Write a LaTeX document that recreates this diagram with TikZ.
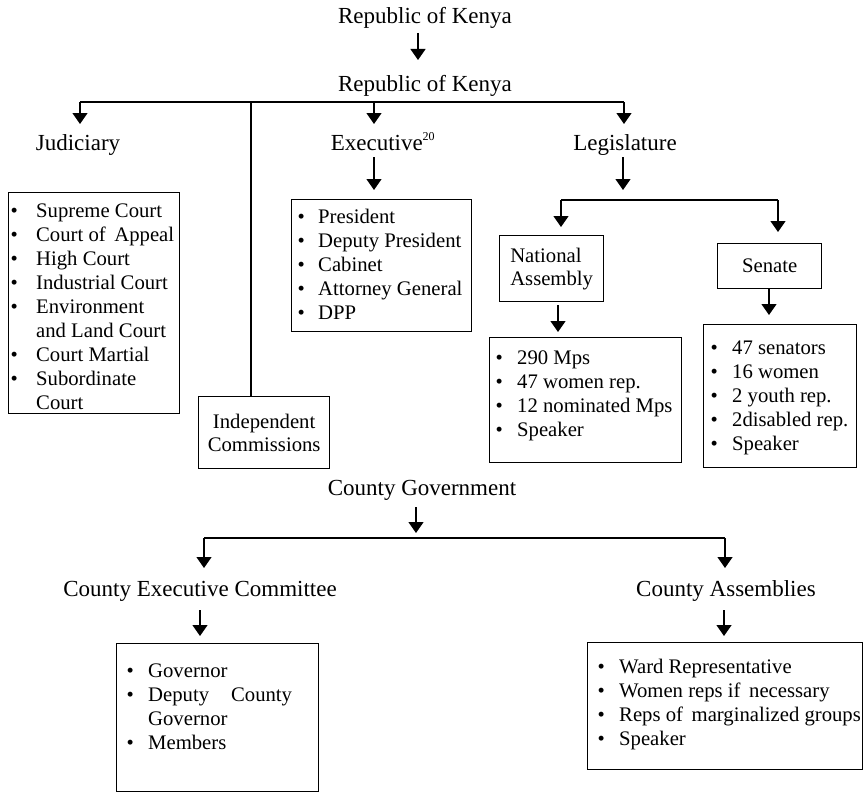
\documentclass[tikz,border=0pt]{standalone}
\usepackage{fontspec}
\setmainfont{Liberation Serif}
\usetikzlibrary{arrows.meta}
\newlength{\bw}
\newcommand{\itm}[1]{\makebox[\bw][l]{\textbullet}&#1}
\newcommand{\cnt}[1]{&#1}
\tikzset{
  ln/.style={line width=1.3pt},
  arr/.style={line width=1.3pt,-{Triangle[width=15pt,length=11pt]}},
  head/.style={font=\fontsize{23}{27}\selectfont, inner sep=0pt, text height=17pt, text depth=5pt, anchor=center},
  box/.style={draw, line width=1.3pt, inner sep=0pt, anchor=north west, align=center, font=\fontsize{20.7}{23}\selectfont},
  lst/.style={inner sep=0pt, anchor=base west, font=\fontsize{20.7}{24}\selectfont},
}
\begin{document}
\begin{tikzpicture}[x=1pt,y=-1pt]
\useasboundingbox (0,0) rectangle (864,792);
% headings
\node[head] (rk1) at (425,18) {Republic of Kenya};
\node[head] (rk2) at (425,86) {Republic of Kenya};
\node[head] (jh) at (78,144) {Judiciary};
\node[head] (exh) at (383,144) {Executive\textsuperscript{\fontsize{12}{12}\selectfont 20}};
\node[head] (legh) at (625,144) {Legislature};
\node[head] (cg) at (422,489) {County Government};
\node[head] (ceh) at (200,590) {County Executive Committee};
\node[head] (cah) at (726,590) {County Assemblies};
% boxes
\node[box, minimum width=171pt, minimum height=221pt] (jud) at (8,192) {};
\node[box, minimum width=180pt, minimum height=132pt] (exb) at (291,199) {};
\node[box, minimum width=131pt, minimum height=72pt] (ic) at (198,396) {Independent\\Commissions};
\node[box, minimum width=104pt, minimum height=66pt, align=left] (na) at (499,235) {National\\Assembly};
\node[box, minimum width=104pt, minimum height=45pt] (sen) at (717,243) {Senate};
\node[box, minimum width=192pt, minimum height=125pt] (nal) at (489,337) {};
\node[box, minimum width=153pt, minimum height=143pt] (senl) at (703,324) {};
\node[box, minimum width=202pt, minimum height=148pt] (cec) at (116,643) {};
\node[box, minimum width=275pt, minimum height=127pt] (ca) at (587,642) {};
% lists
\node[lst] (judt) at (10.5,217) {\setlength{\bw}{25.5pt}\begin{tabular}[t]{@{}l@{}l@{}}
\itm{Supreme Court}\\ \itm{Court of\, Appeal}\\ \itm{High Court}\\ \itm{Industrial Court}\\
\itm{Environment}\\ \cnt{and Land Court}\\ \itm{Court Martial}\\ \itm{Subordinate}\\ \cnt{Court}
\end{tabular}};
\node[lst] (ext) at (297.5,223) {\setlength{\bw}{20.5pt}\begin{tabular}[t]{@{}l@{}l@{}}
\itm{President}\\ \itm{Deputy President}\\ \itm{Cabinet}\\ \itm{Attorney General}\\ \itm{DPP}
\end{tabular}};
\node[lst] (nat) at (495.5,364) {\setlength{\bw}{21.5pt}\begin{tabular}[t]{@{}l@{}l@{}}
\itm{290 Mps}\\ \itm{47 women rep.}\\ \itm{12 nominated Mps}\\ \itm{Speaker}
\end{tabular}};
\node[lst] (sent) at (710.5,354) {\setlength{\bw}{21.5pt}\begin{tabular}[t]{@{}l@{}l@{}}
\itm{47 senators}\\ \itm{16 women}\\ \itm{2 youth rep.}\\ \itm{2disabled rep.}\\ \itm{Speaker}
\end{tabular}};
\node[lst] (cect) at (126.5,677) {\setlength{\bw}{21.5pt}\begin{tabular}[t]{@{}l@{}l@{}}
\itm{Governor}\\ \itm{Deputy\hspace{22pt}County}\\ \cnt{Governor}\\ \itm{Members}
\end{tabular}};
\node[lst] (cat) at (597.5,673) {\setlength{\bw}{21.5pt}\begin{tabular}[t]{@{}l@{}l@{}}
\itm{Ward Representative}\\ \itm{Women reps if\, necessary}\\ \itm{Reps of\, marginalized groups}\\ \itm{Speaker}
\end{tabular}};
% coordinates
\coordinate (a0s) at (418,33); \coordinate (a0e) at (418,60);
\coordinate (bl) at (80,102); \coordinate (br) at (624,102);
\coordinate (bj) at (80,124); \coordinate (bm) at (251,102);
\coordinate (bes) at (374,102); \coordinate (bee) at (374,124);
\coordinate (ble) at (624,124);
\coordinate (exs) at (374,157); \coordinate (exe) at (374,190);
\coordinate (lgs) at (623,157); \coordinate (lge) at (623,190);
\coordinate (lbl) at (561,200); \coordinate (lbr) at (778,200);
\coordinate (lnae) at (561,227); \coordinate (lsee) at (778,232);
\coordinate (nas) at (558,305); \coordinate (nae) at (558,332);
\coordinate (ses) at (769,289); \coordinate (see) at (769,315);
\coordinate (cgs) at (416,507); \coordinate (cge) at (416,533);
\coordinate (cbl) at (204,538); \coordinate (cbr) at (725,538);
\coordinate (cble) at (204,568); \coordinate (cbre) at (725,568);
\coordinate (ces) at (200,610); \coordinate (cee) at (200,636);
\coordinate (cas) at (724,610); \coordinate (cae) at (724,636);
% connectors
\draw[arr] (a0s) -- (a0e);
\draw[ln] (bl) -- (br);
\draw[arr] (bl) -- (bj);
\draw[arr] (bes) -- (bee);
\draw[arr] (br) -- (ble);
\draw[ln] (bm) -- (bm |- ic.north);
\draw[arr] (exs) -- (exe);
\draw[arr] (lgs) -- (lge);
\draw[ln] (lbl) -- (lbr);
\draw[arr] (lbl) -- (lnae);
\draw[arr] (lbr) -- (lsee);
\draw[arr] (nas) -- (nae);
\draw[arr] (ses) -- (see);
\draw[arr] (cgs) -- (cge);
\draw[ln] (cbl) -- (cbr);
\draw[arr] (cbl) -- (cble);
\draw[arr] (cbr) -- (cbre);
\draw[arr] (ces) -- (cee);
\draw[arr] (cas) -- (cae);
\end{tikzpicture}
\end{document}
